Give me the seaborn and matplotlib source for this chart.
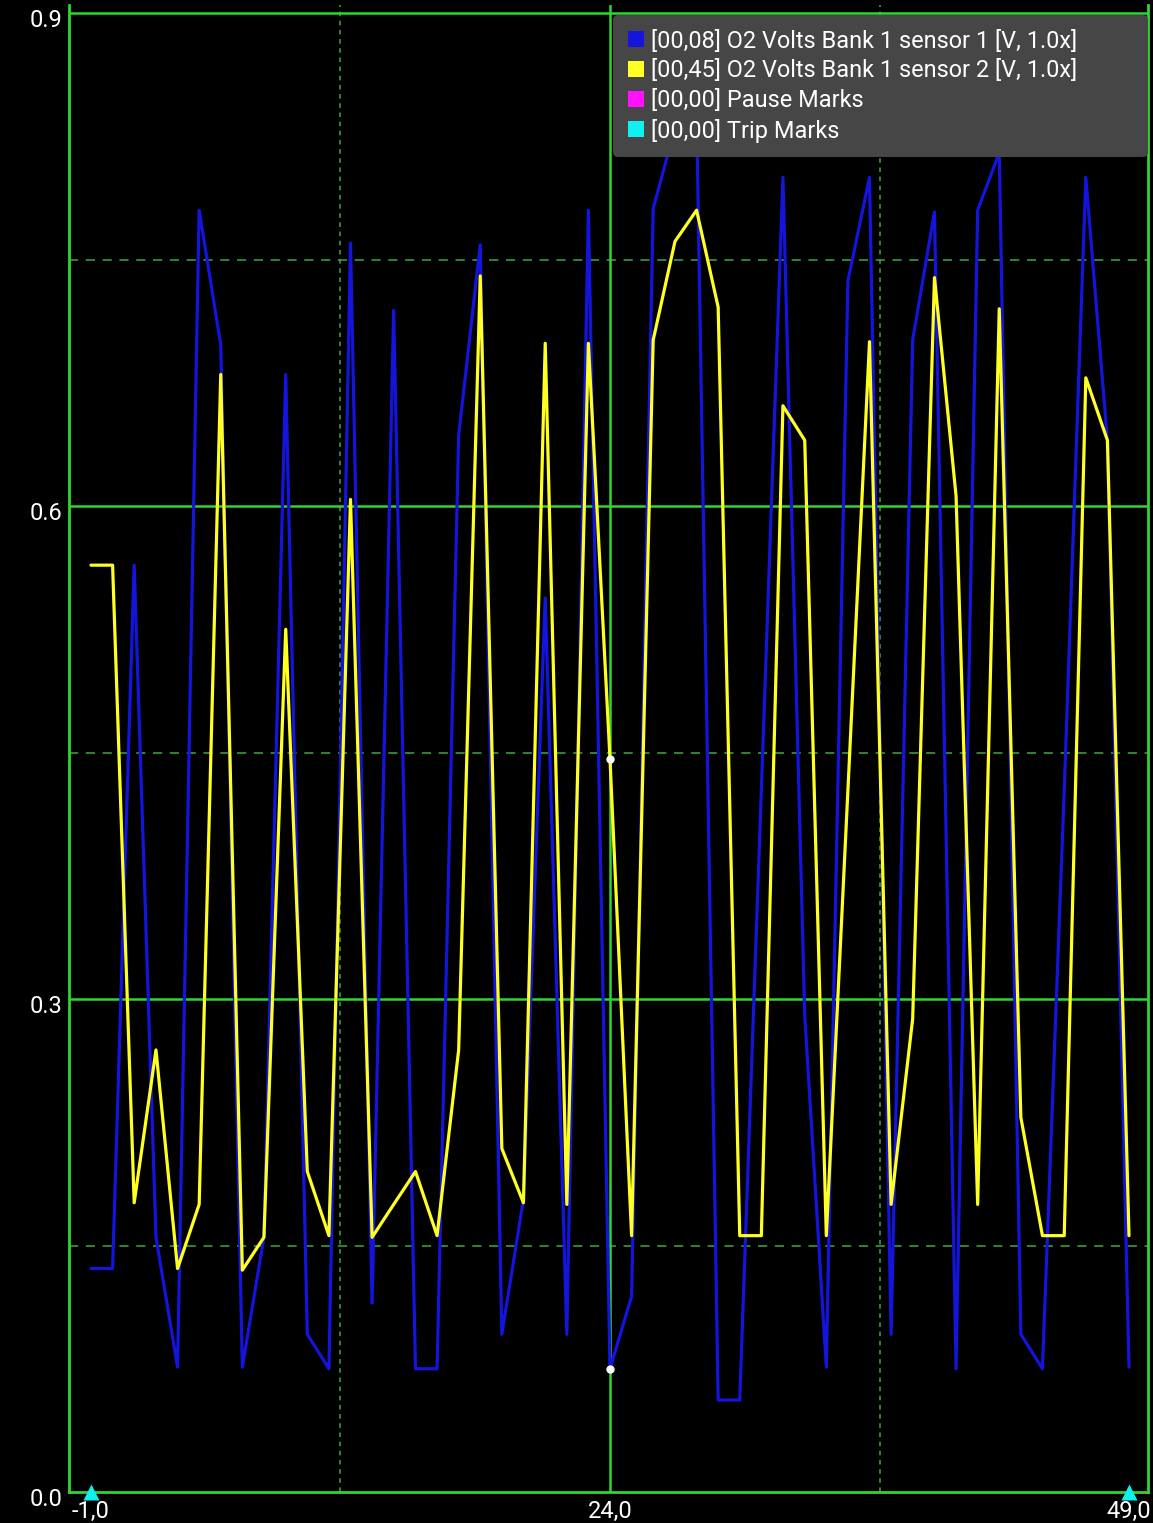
import matplotlib
matplotlib.use("Agg")
import matplotlib.pyplot as plt
from matplotlib.patches import Patch
from matplotlib.transforms import ScaledTranslation
import pandas as pd
import seaborn as sns

# ---------------- data ----------------
time_s = [-1.0, 0.04, 1.08, 2.13, 3.17, 4.21, 5.25, 6.29, 7.33, 8.38, 9.42, 10.46,
          11.5, 12.54, 13.58, 14.63, 15.67, 16.71, 17.75, 18.79, 19.83, 20.88, 21.92,
          22.96, 24.0, 25.04, 26.08, 27.13, 28.17, 29.21, 30.25, 31.29, 32.33, 33.38,
          34.42, 35.46, 36.5, 37.54, 38.58, 39.63, 40.67, 41.71, 42.75, 43.79, 44.83,
          45.88, 46.92, 47.96, 49.0]

sensor1_v = [0.136, 0.136, 0.564, 0.155, 0.076, 0.780, 0.698, 0.076, 0.155, 0.680,
             0.096, 0.075, 0.760, 0.115, 0.719, 0.075, 0.075, 0.643, 0.759, 0.096,
             0.178, 0.544, 0.096, 0.780, 0.075, 0.119, 0.781, 0.830, 0.840, 0.056,
             0.056, 0.427, 0.800, 0.290, 0.076, 0.737, 0.800, 0.096, 0.701, 0.779,
             0.075, 0.780, 0.815, 0.096, 0.075, 0.427, 0.800, 0.640, 0.076]

sensor2_v = [0.564, 0.564, 0.176, 0.269, 0.136, 0.175, 0.680, 0.135, 0.155, 0.525,
             0.195, 0.156, 0.604, 0.155, 0.175, 0.195, 0.156, 0.269, 0.740, 0.209,
             0.176, 0.699, 0.175, 0.699, 0.446, 0.156, 0.701, 0.761, 0.780, 0.721,
             0.156, 0.156, 0.661, 0.640, 0.156, 0.427, 0.700, 0.175, 0.288, 0.739,
             0.606, 0.175, 0.720, 0.228, 0.156, 0.156, 0.678, 0.640, 0.156]

series_names = ["[00,08] O2 Volts Bank 1 sensor 1 [V, 1.0x]",
                "[00,45] O2 Volts Bank 1 sensor 2 [V, 1.0x]"]
mark_names = ["[00,00] Pause Marks", "[00,00] Trip Marks"]
series_colors = ["#1414dc", "#ffff22"]
mark_colors = ["#ff10ff", "#10f0f0"]

y_ticks = [0.0, 0.3, 0.6, 0.9]
y_tick_labels = ["0.0", "0.3", "0.6", "0.9"]
x_ticks = [-1.0, 24.0, 49.0]
x_tick_labels = ["-1,0", "24,0", "49,0"]

trip_marks_t = [-1.0, 49.0]
trip_marks_v = [0.0, 0.0]
cursor_t = [24.0, 24.0]
cursor_v = [0.446, 0.075]

grid_major_y = [0.3, 0.6, 0.9]
grid_minor_y = [0.15, 0.45, 0.75]
grid_major_x = [24.0]
grid_minor_x = [11.0, 37.0]

# ---------------- style ----------------
GREEN = "#2fd62f"
GREEN_DIM = "#3fa83f"

sns.set_theme(style="dark", rc={
    "axes.facecolor": "black",
    "figure.facecolor": "black",
    "savefig.facecolor": "black",
    "axes.grid": False,
})
plt.rcParams["font.family"] = ["Roboto", "DejaVu Sans"]

df = pd.DataFrame({
    "t": time_s + time_s,
    "v": sensor1_v + sensor2_v,
    "series": [series_names[0]] * len(time_s) + [series_names[1]] * len(time_s),
})

W, H = 1153, 1523
fig = plt.figure(figsize=(W / 100, H / 100), dpi=100)
ax_left, ax_right, ax_top, ax_bottom = 69, 1148, 5, 1492
ax = fig.add_axes([ax_left / W, (H - ax_bottom) / H,
                   (ax_right - ax_left) / W, (ax_bottom - ax_top) / H])
ax.set_facecolor("black")

# reference lines (grid)
for y in grid_minor_y:
    ax.axhline(y, color=GREEN_DIM, lw=1.1, ls=(0, (6, 5)), zorder=1)
for x in grid_minor_x:
    ax.axvline(x, color=GREEN_DIM, lw=1.1, ls=(0, (3, 3)), zorder=1)
for y in grid_major_y:
    ax.axhline(y, color=GREEN, lw=1.8, zorder=1)

sns.lineplot(data=df, x="t", y="v", hue="series", hue_order=series_names,
             palette=series_colors, estimator=None, sort=False, legend=False,
             linewidth=2.3, ax=ax, zorder=3)

for x in grid_major_x:
    ax.axvline(x, color=GREEN, lw=1.8, zorder=2)

# cursor points and trip marks
ax.plot(cursor_t, cursor_v, ls="none", marker="o", ms=6, color="white",
        mec="none", zorder=5)
ax.plot(trip_marks_t, trip_marks_v, ls="none", marker="^", ms=11,
        color=mark_colors[1], mec="none", zorder=6, clip_on=False)

ax.set_xlim(-1 - 22 / 20.76, 49 + 19 / 20.76)
ax.set_ylim(0, 0.9 + 8 / 1642)
ax.set_xlabel("")
ax.set_ylabel("")

ax.set_xticks(x_ticks)
ax.set_xticklabels(x_tick_labels)
ax.set_yticks(y_ticks)
ax.set_yticklabels(y_tick_labels)
ax.tick_params(axis="both", length=0, labelcolor="white", labelsize=17)
ax.tick_params(axis="x", pad=6)
ax.tick_params(axis="y", pad=5)
for lab in ax.get_yticklabels():
    lab.set_transform(lab.get_transform() + ScaledTranslation(0, -5 / 100, fig.dpi_scale_trans))

for side in ["left", "bottom", "right"]:
    ax.spines[side].set_visible(True)
    ax.spines[side].set_color(GREEN)
    ax.spines[side].set_linewidth(2.0)
    ax.spines[side].set_zorder(4)
ax.spines["top"].set_visible(False)

# legend
handles = [Patch(facecolor=c, edgecolor="none") for c in series_colors + mark_colors]
leg = ax.legend(handles, series_names + mark_names, loc="upper left",
                bbox_to_anchor=(613 / W, 1 - 15 / H, (1148 - 613) / W, 0),
                bbox_transform=fig.transFigure, mode="expand", borderaxespad=0,
                frameon=True, fancybox=True, facecolor="#464646", edgecolor="none",
                framealpha=1.0, fontsize=16.9, labelcolor="white",
                handlelength=0.68, handleheight=0.68, handletextpad=0.34,
                labelspacing=0.285, borderpad=0.62)
leg.set_zorder(10)

fig.savefig("out.png", dpi=100, facecolor="black")
